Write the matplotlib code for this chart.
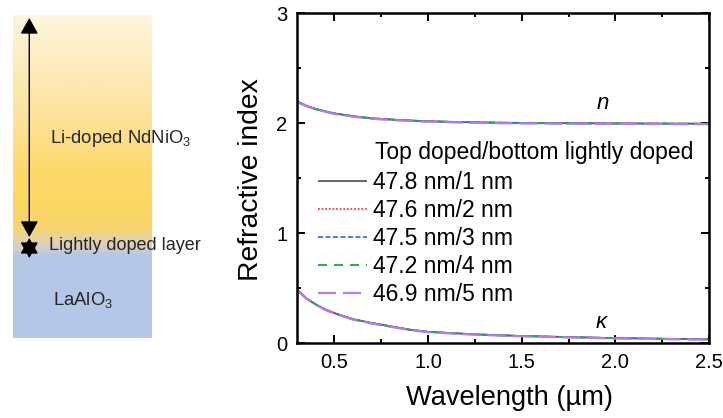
import numpy as np
import matplotlib
matplotlib.use("Agg")
import matplotlib.pyplot as plt
from matplotlib.colors import LinearSegmentedColormap, to_rgb
from matplotlib.patches import Rectangle

plt.rcParams['font.family'] = ['Liberation Sans', 'DejaVu Sans']
plt.rcParams['mathtext.fontset'] = 'custom'
plt.rcParams['mathtext.rm'] = 'Liberation Sans'
plt.rcParams['mathtext.it'] = 'Liberation Sans:italic'
plt.rcParams['lines.scale_dashes'] = False

# ---------------- data ----------------
wavelength = [0.30, 0.35, 0.40, 0.45, 0.50, 0.60, 0.70, 0.80, 0.90, 1.00, 1.25, 1.50, 1.75, 2.00, 2.25, 2.50]

n_1nm = [2.200, 2.160, 2.130, 2.110, 2.090, 2.065, 2.046, 2.035, 2.026, 2.019, 2.009, 2.004, 2.001, 1.999, 1.998, 1.997]
n_2nm = [2.200, 2.160, 2.130, 2.109, 2.090, 2.064, 2.046, 2.034, 2.025, 2.018, 2.008, 2.003, 2.000, 1.998, 1.997, 1.996]
n_3nm = [2.199, 2.159, 2.129, 2.109, 2.089, 2.064, 2.045, 2.034, 2.025, 2.018, 2.008, 2.003, 2.000, 1.998, 1.997, 1.996]
n_4nm = [2.198, 2.158, 2.128, 2.108, 2.088, 2.063, 2.044, 2.033, 2.024, 2.017, 2.007, 2.002, 1.999, 1.997, 1.996, 1.995]
n_5nm = [2.195, 2.155, 2.125, 2.105, 2.085, 2.060, 2.041, 2.030, 2.021, 2.014, 2.004, 1.999, 1.996, 1.994, 1.993, 1.992]

k_1nm = [0.490, 0.410, 0.355, 0.310, 0.275, 0.220, 0.185, 0.155, 0.125, 0.105, 0.082, 0.067, 0.057, 0.048, 0.042, 0.037]
k_2nm = [0.489, 0.409, 0.354, 0.309, 0.274, 0.219, 0.184, 0.154, 0.124, 0.104, 0.081, 0.066, 0.056, 0.047, 0.041, 0.036]
k_3nm = [0.488, 0.408, 0.353, 0.308, 0.273, 0.218, 0.183, 0.153, 0.124, 0.104, 0.081, 0.066, 0.056, 0.047, 0.041, 0.036]
k_4nm = [0.487, 0.407, 0.352, 0.307, 0.272, 0.217, 0.182, 0.152, 0.123, 0.103, 0.080, 0.065, 0.055, 0.046, 0.040, 0.035]
k_5nm = [0.485, 0.405, 0.350, 0.305, 0.270, 0.215, 0.180, 0.150, 0.121, 0.101, 0.078, 0.063, 0.053, 0.044, 0.038, 0.033]

series_labels = ['47.8 nm/1 nm', '47.6 nm/2 nm', '47.5 nm/3 nm', '47.2 nm/4 nm', '46.9 nm/5 nm']
legend_title = 'Top doped/bottom lightly doped'
x_ticks = [0.5, 1.0, 1.5, 2.0, 2.5]
y_ticks = [0, 1, 2, 3]

n_series = [n_1nm, n_2nm, n_3nm, n_4nm, n_5nm]
k_series = [k_1nm, k_2nm, k_3nm, k_4nm, k_5nm]

colors = ['#4a4a4a', '#ff2a2a', '#2a78ee', '#2ea85a', '#b47ee6']
styles = [(0, ()), (0, (1.3, 1.3)), (0, (3.6, 1.8)), (0, (6.5, 5.0)), (0, (13.0, 5.0))]
widths = [1.2, 1.2, 1.3, 1.4, 1.6]

W, H = 723, 418
fig = plt.figure(figsize=(W / 100, H / 100), dpi=100)

# ---------------- left schematic ----------------
ov = fig.add_axes([0, 0, 1, 1], zorder=-1)
ov.set_xlim(0, W)
ov.set_ylim(H, 0)
ov.axis('off')
ov.patch.set_alpha(0)

stops_px = [15, 60, 120, 170, 200, 228, 240, 250, 255]
stops_col = ['#fef5dc', '#fdedbf', '#fde298', '#fdd96c', '#fdd862', '#f7d56c', '#e6d3a6', '#cfcdcc', '#b8c8e4']
top, bot = 15, 255
pos = [(p - top) / (bot - top) for p in stops_px]
cmap = LinearSegmentedColormap.from_list('grad', list(zip(pos, [to_rgb(c) for c in stops_col])))
grad = np.linspace(0, 1, 400).reshape(-1, 1)
ov.imshow(grad, cmap=cmap, aspect='auto', extent=[12.7, 151.7, bot, top], interpolation='bilinear')
ov.add_patch(Rectangle((12.7, 255), 139, 83, facecolor='#b4c7e7', edgecolor='none'))

arrowstyle = '<|-|>,head_length=0.75,head_width=0.42'
ov.annotate('', xy=(29.3, 237), xytext=(29.3, 18),
            arrowprops=dict(arrowstyle=arrowstyle, mutation_scale=13, color='black', lw=1.0,
                            shrinkA=0, shrinkB=0))
ov.annotate('', xy=(29.3, 258), xytext=(29.3, 238),
            arrowprops=dict(arrowstyle=arrowstyle, mutation_scale=13, color='black', lw=1.0,
                            shrinkA=0, shrinkB=0))

ov.text(50, 143, 'Li-doped NdNiO$_3$', fontsize=13.3, color='#262626', ha='left', va='baseline')
ov.text(49, 250, 'Lightly doped layer', fontsize=13, color='#262626', ha='left', va='baseline')
ov.text(53, 305, 'LaAlO$_3$', fontsize=13.3, color='#262626', ha='left', va='baseline')

# ---------------- main plot ----------------
ax = fig.add_axes([297 / W, (H - 343.3) / H, 412 / W, 330 / H])
handles = []
for i in range(5):
    h, = ax.plot(wavelength, n_series[i], color=colors[i], linestyle=styles[i], lw=widths[i])
    ax.plot(wavelength, k_series[i], color=colors[i], linestyle=styles[i], lw=widths[i])
    handles.append(h)

ax.set_xlim(0.3, 2.5)
ax.set_ylim(0, 3)
ax.set_xticks(x_ticks)
ax.set_xticklabels([f'{v:.1f}' for v in x_ticks])
ax.set_yticks(y_ticks)
ax.set_xticks(np.arange(0.5, 2.51, 0.25), minor=True)
ax.set_yticks(np.arange(0, 3.01, 0.5), minor=True)
ax.tick_params(which='both', direction='in', top=True, right=True, width=1.4, labelsize=14.5)
ax.tick_params(which='major', length=6)
ax.tick_params(which='minor', length=3)
ax.tick_params(axis='x', pad=7)
ax.tick_params(axis='y', pad=7)
for s in ax.spines.values():
    s.set_linewidth(1.8)

ax.text(1.93, 2.18, '$n$', fontsize=16, ha='center', va='center')
ax.text(1.93, 0.19, '$\\kappa$', fontsize=16, ha='center', va='center')

fig.text(251 / W, 1 - 180 / H, 'Refractive index', rotation=90, fontsize=20.3, ha='center', va='center')
fig.text(509 / W, 1 - 398 / H, 'Wavelength (µm)', fontsize=19.6, ha='center', va='center')

fig.text(375 / W, 1 - 152 / H, legend_title, fontsize=16.5, ha='left', va='center')
ax.legend(handles, series_labels, loc='upper left', bbox_to_anchor=(318 / W, 1 - 171 / H),
          bbox_transform=fig.transFigure, frameon=False, fontsize=16.5, handlelength=2.15,
          handletextpad=0.26, labelspacing=0.22, borderpad=0, borderaxespad=0)

fig.savefig('out.png', dpi=100)
